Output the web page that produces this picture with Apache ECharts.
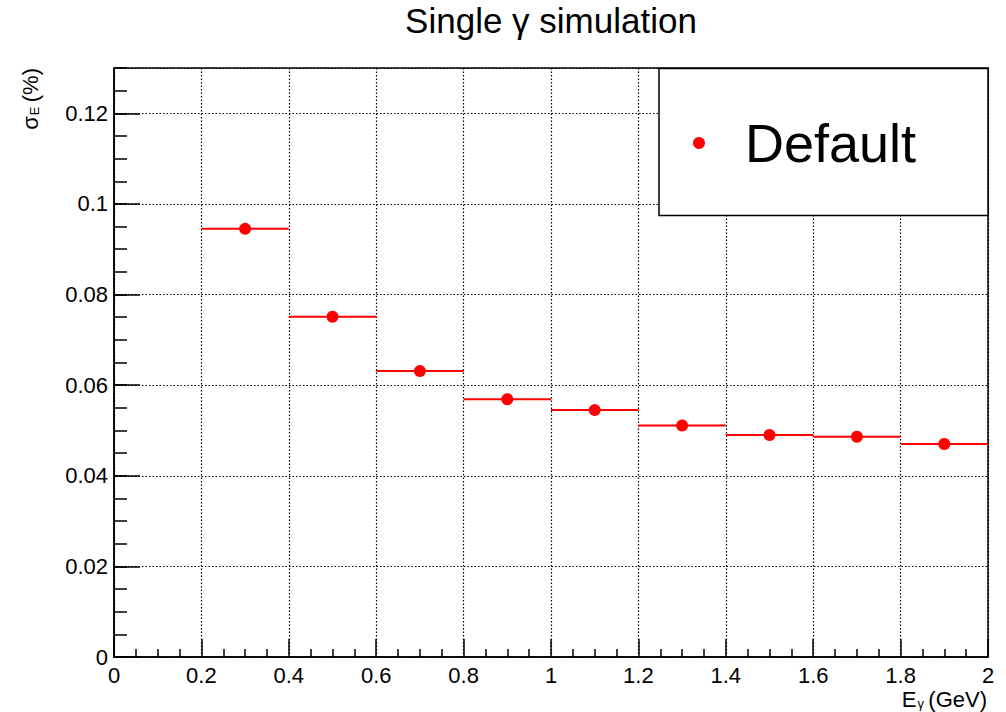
<!DOCTYPE html>
<html>
<head>
<meta charset="utf-8">
<script src="https://cdn.jsdelivr.net/npm/echarts@6/dist/echarts.min.js"></script>
<style>
  html, body { margin: 0; padding: 0; background: #fff; }
  #chart { width: 1006px; height: 712px; }
</style>
</head>
<body>
<div id="chart"></div>
<script>
// photon energy bin centres (GeV), half bin widths and resolution values
const energies = [0.3, 0.5, 0.7, 0.9, 1.1, 1.3, 1.5, 1.7, 1.9]
const halfWidths = [0.1, 0.1, 0.1, 0.1, 0.1, 0.1, 0.1, 0.1, 0.1]
const sigmas = [0.0945, 0.0751, 0.0631, 0.0569, 0.0545, 0.0511, 0.0490, 0.0486, 0.0470]
const seriesName = 'Default'

const FONT = 'Liberation Sans, Arial, Helvetica, sans-serif'
const RED = '#ff0000'

const chart = echarts.init(document.getElementById('chart'), null, { renderer: 'svg' })

chart.setOption({
  backgroundColor: '#fff',
  animation: false,
  title: {
    text: 'Single γ simulation',
    left: 551,
    top: 2,
    textAlign: 'center',
    padding: 0,
    textStyle: { fontFamily: FONT, fontSize: 35, lineHeight: 36, fontWeight: 'normal', color: '#000' }
  },
  grid: {
    left: 114,
    right: 18,
    top: 68,
    bottom: 55,
    show: true,
    borderColor: '#000',
    borderWidth: 1.5,
    containLabel: false,
    outerBoundsMode: 'none'
  },
  legend: {
    data: [seriesName],
    left: 693,
    top: 113,
    padding: 0,
    itemWidth: 12,
    itemHeight: 12,
    icon: 'circle',
    selectedMode: false,
    itemStyle: { color: RED, opacity: 1 },
    textStyle: {
      fontFamily: FONT,
      fontSize: 54,
      lineHeight: 60,
      color: '#000',
      padding: [0, 0, 0, 35]
    }
  },
  graphic: [
    {
      type: 'rect',
      z: 1,
      shape: { x: 659, y: 68.5, width: 329, height: 147 },
      style: { fill: '#fff', stroke: '#000', lineWidth: 1.5 }
    },
    {
      type: 'text',
      z: 5,
      x: 30,
      y: 68,
      rotation: Math.PI / 2,
      style: {
        text: '{a|σ}{b|E} {a|(%)}',
        align: 'right',
        verticalAlign: 'middle',
        fill: '#000',
        rich: {
          a: { fontFamily: FONT, fontSize: 22, lineHeight: 22, fill: '#000' },
          b: { fontFamily: FONT, fontSize: 13, lineHeight: 13, padding: [9, 1, 0, 1], fill: '#000' }
        }
      }
    },
    {
      type: 'text',
      z: 5,
      x: 987,
      y: 699,
      style: {
        text: '{a|E}{b|γ} {a|(GeV)}',
        align: 'right',
        verticalAlign: 'middle',
        fill: '#000',
        rich: {
          a: { fontFamily: FONT, fontSize: 22, lineHeight: 20, fill: '#000' },
          b: { fontFamily: FONT, fontSize: 13, lineHeight: 12, padding: [8, 1, 0, 1], fill: '#000' }
        }
      }
    }
  ],
  xAxis: {
    type: 'value',
    min: 0,
    max: 2,
    interval: 0.2,
    axisLine: { show: true, lineStyle: { color: '#000', width: 1.5 } },
    axisTick: { show: true, inside: true, length: 18, lineStyle: { color: '#000', width: 1.5 } },
    minorTick: { show: true, splitNumber: 4, length: 8, lineStyle: { color: '#000', width: 1.5 } },
    axisLabel: { margin: 7, fontFamily: FONT, fontSize: 22, lineHeight: 22, color: '#000' },
    splitLine: { show: true, lineStyle: { color: '#000', width: 1.2, type: [1.5, 2] } }
  },
  yAxis: [
    {
      type: 'value',
      min: 0,
      max: 0.13,
      interval: 0.02,
      axisLine: { show: true, lineStyle: { color: '#000', width: 1.5 } },
      axisTick: { show: true, inside: true, length: 26, lineStyle: { color: '#000', width: 1.5 } },
      axisLabel: { margin: 6, fontFamily: FONT, fontSize: 22, color: '#000', showMaxLabel: false },
      splitLine: { show: true, lineStyle: { color: '#000', width: 1.2, type: [1.5, 2] } }
    },
    {
      // minor ticks only
      type: 'value',
      position: 'left',
      offset: 0,
      min: 0,
      max: 0.13,
      interval: 0.005,
      axisLine: { show: false },
      axisTick: { show: true, inside: true, length: 13, lineStyle: { color: '#000', width: 1.5 } },
      axisLabel: { show: false },
      splitLine: { show: false }
    }
  ],
  series: [
    {
      name: 'bins',
      type: 'custom',
      z: 3,
      silent: true,
      data: energies.map((e, i) => [e, sigmas[i], halfWidths[i]]),
      renderItem(params, api) {
        const x = api.value(0)
        const y = api.value(1)
        const hw = api.value(2)
        const p1 = api.coord([x - hw, y])
        const p2 = api.coord([x + hw, y])
        return {
          type: 'line',
          shape: { x1: p1[0], y1: p1[1], x2: p2[0], y2: p2[1] },
          style: { stroke: RED, lineWidth: 2 }
        }
      }
    },
    {
      name: seriesName,
      type: 'scatter',
      z: 4,
      symbol: 'circle',
      symbolSize: 12,
      itemStyle: { color: RED, opacity: 1 },
      data: energies.map((e, i) => [e, sigmas[i]])
    }
  ]
})
</script>
</body>
</html>
